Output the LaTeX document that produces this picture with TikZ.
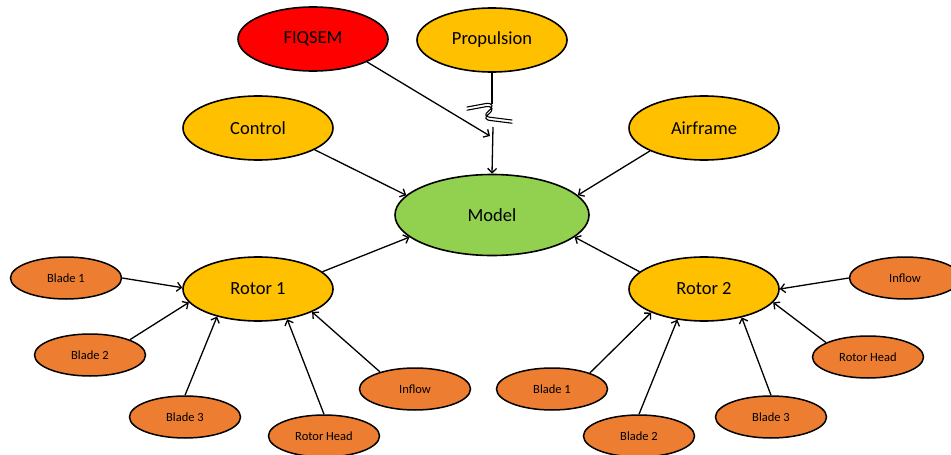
\documentclass[tikz,border=0pt]{standalone}
\usepackage{fontspec}
\setmainfont{Carlito}
\usetikzlibrary{shapes.geometric,arrows.meta}
\definecolor{cred}{HTML}{FF0000}
\definecolor{cgold}{HTML}{FFC000}
\definecolor{corange}{HTML}{ED7D31}
\definecolor{cgreen}{HTML}{92D050}
\tikzset{
  big/.style={ellipse, draw=black, line width=1.6pt, inner sep=0pt,
    minimum width=150pt, minimum height=64pt, font=\fontsize{18.5}{20}\selectfont},
  small/.style={ellipse, draw=black, line width=1.5pt, inner sep=0pt, fill=corange,
    minimum width=111pt, minimum height=42pt, font=\fontsize{12.5}{14}\selectfont},
  link/.style={line width=1.3pt, -{Straight Barb[length=4.5pt,width=9pt,line width=1.3pt]}},
  plain/.style={line width=1.3pt}
}
\begin{document}
\begin{tikzpicture}[x=1pt,y=-1pt]
\useasboundingbox (0,0) rectangle (951,455);
% main nodes
\node[big, fill=cred]  (fiq)  at (313,39)  {FIQSEM};
\node[big, fill=cgold] (prop) at (492,40)  {Propulsion};
\node[big, fill=cgold] (ctl)  at (258,128) {Control};
\node[big, fill=cgold] (air)  at (704,128) {Airframe};
\node[big, fill=cgreen, minimum width=194pt, minimum height=81pt] (mdl) at (492,215) {Model};
\node[big, fill=cgold] (r1)   at (258,289) {Rotor 1};
\node[big, fill=cgold] (r2)   at (704,289) {Rotor 2};
% rotor 1 parts
\node[small] (b1l) at (66,278)  {Blade 1};
\node[small] (b2l) at (90,355)  {Blade 2};
\node[small] (b3l) at (185,417) {Blade 3};
\node[small] (rhl) at (324,436) {Rotor Head};
\node[small] (infl) at (415,389) {Inflow};
% rotor 2 parts
\node[small] (infr) at (905,278) {Inflow};
\node[small] (rhr) at (868,357) {Rotor Head};
\node[small] (b1r) at (552,389) {Blade 1};
\node[small] (b2r) at (639,436) {Blade 2};
\node[small] (b3r) at (771,417) {Blade 3};
% connectors into the model
\coordinate (fiqend) at (490,136);
\coordinate (brktop) at (492,104);
\coordinate (brkbot) at (493,127);
\draw[link] (fiq.-23) -- (fiqend);
\draw[plain] (prop.south) -- (brktop);
\draw[link] (brkbot) -- (mdl.north);
% break mark on the propulsion link
\foreach \dy in {0,3.2}{
  \draw[line width=1.1pt, line cap=round] (467,107+\dy) -- (486,103.5+\dy)
    .. controls (493,102.5+\dy) and (494,107+\dy) .. (488.5,111+\dy)
    .. controls (484,114.5+\dy) and (485,117+\dy) .. (492,117.5+\dy) -- (512,120+\dy);
}
\draw[link] (ctl.-21.8) -- (mdl.167.5);
\draw[link] (air.-157) -- (mdl.13.4);
\draw[link] (r1.15.6) -- (mdl.195.3);
\draw[link] (r2.165.8) -- (mdl.-15.7);
% rotor 1 inputs
\draw[link] (b1l.east) -- (r1.179);
\draw[link] (b2l.21.3) -- (r1.191.3);
\draw[link] (b3l.north) -- (r1.214.7);
\draw[link] (rhl.north) -- (r1.-46);
\draw[link] (infl.154.6) -- (r1.-23.6);
% rotor 2 inputs
\draw[link] (infr.west) -- (r2.0);
\draw[link] (rhr.161) -- (r2.-11.5);
\draw[link] (b3r.north) -- (r2.-37);
\draw[link] (b2r.north) -- (r2.-131);
\draw[link] (b1r.23) -- (r2.204);
\end{tikzpicture}
\end{document}
